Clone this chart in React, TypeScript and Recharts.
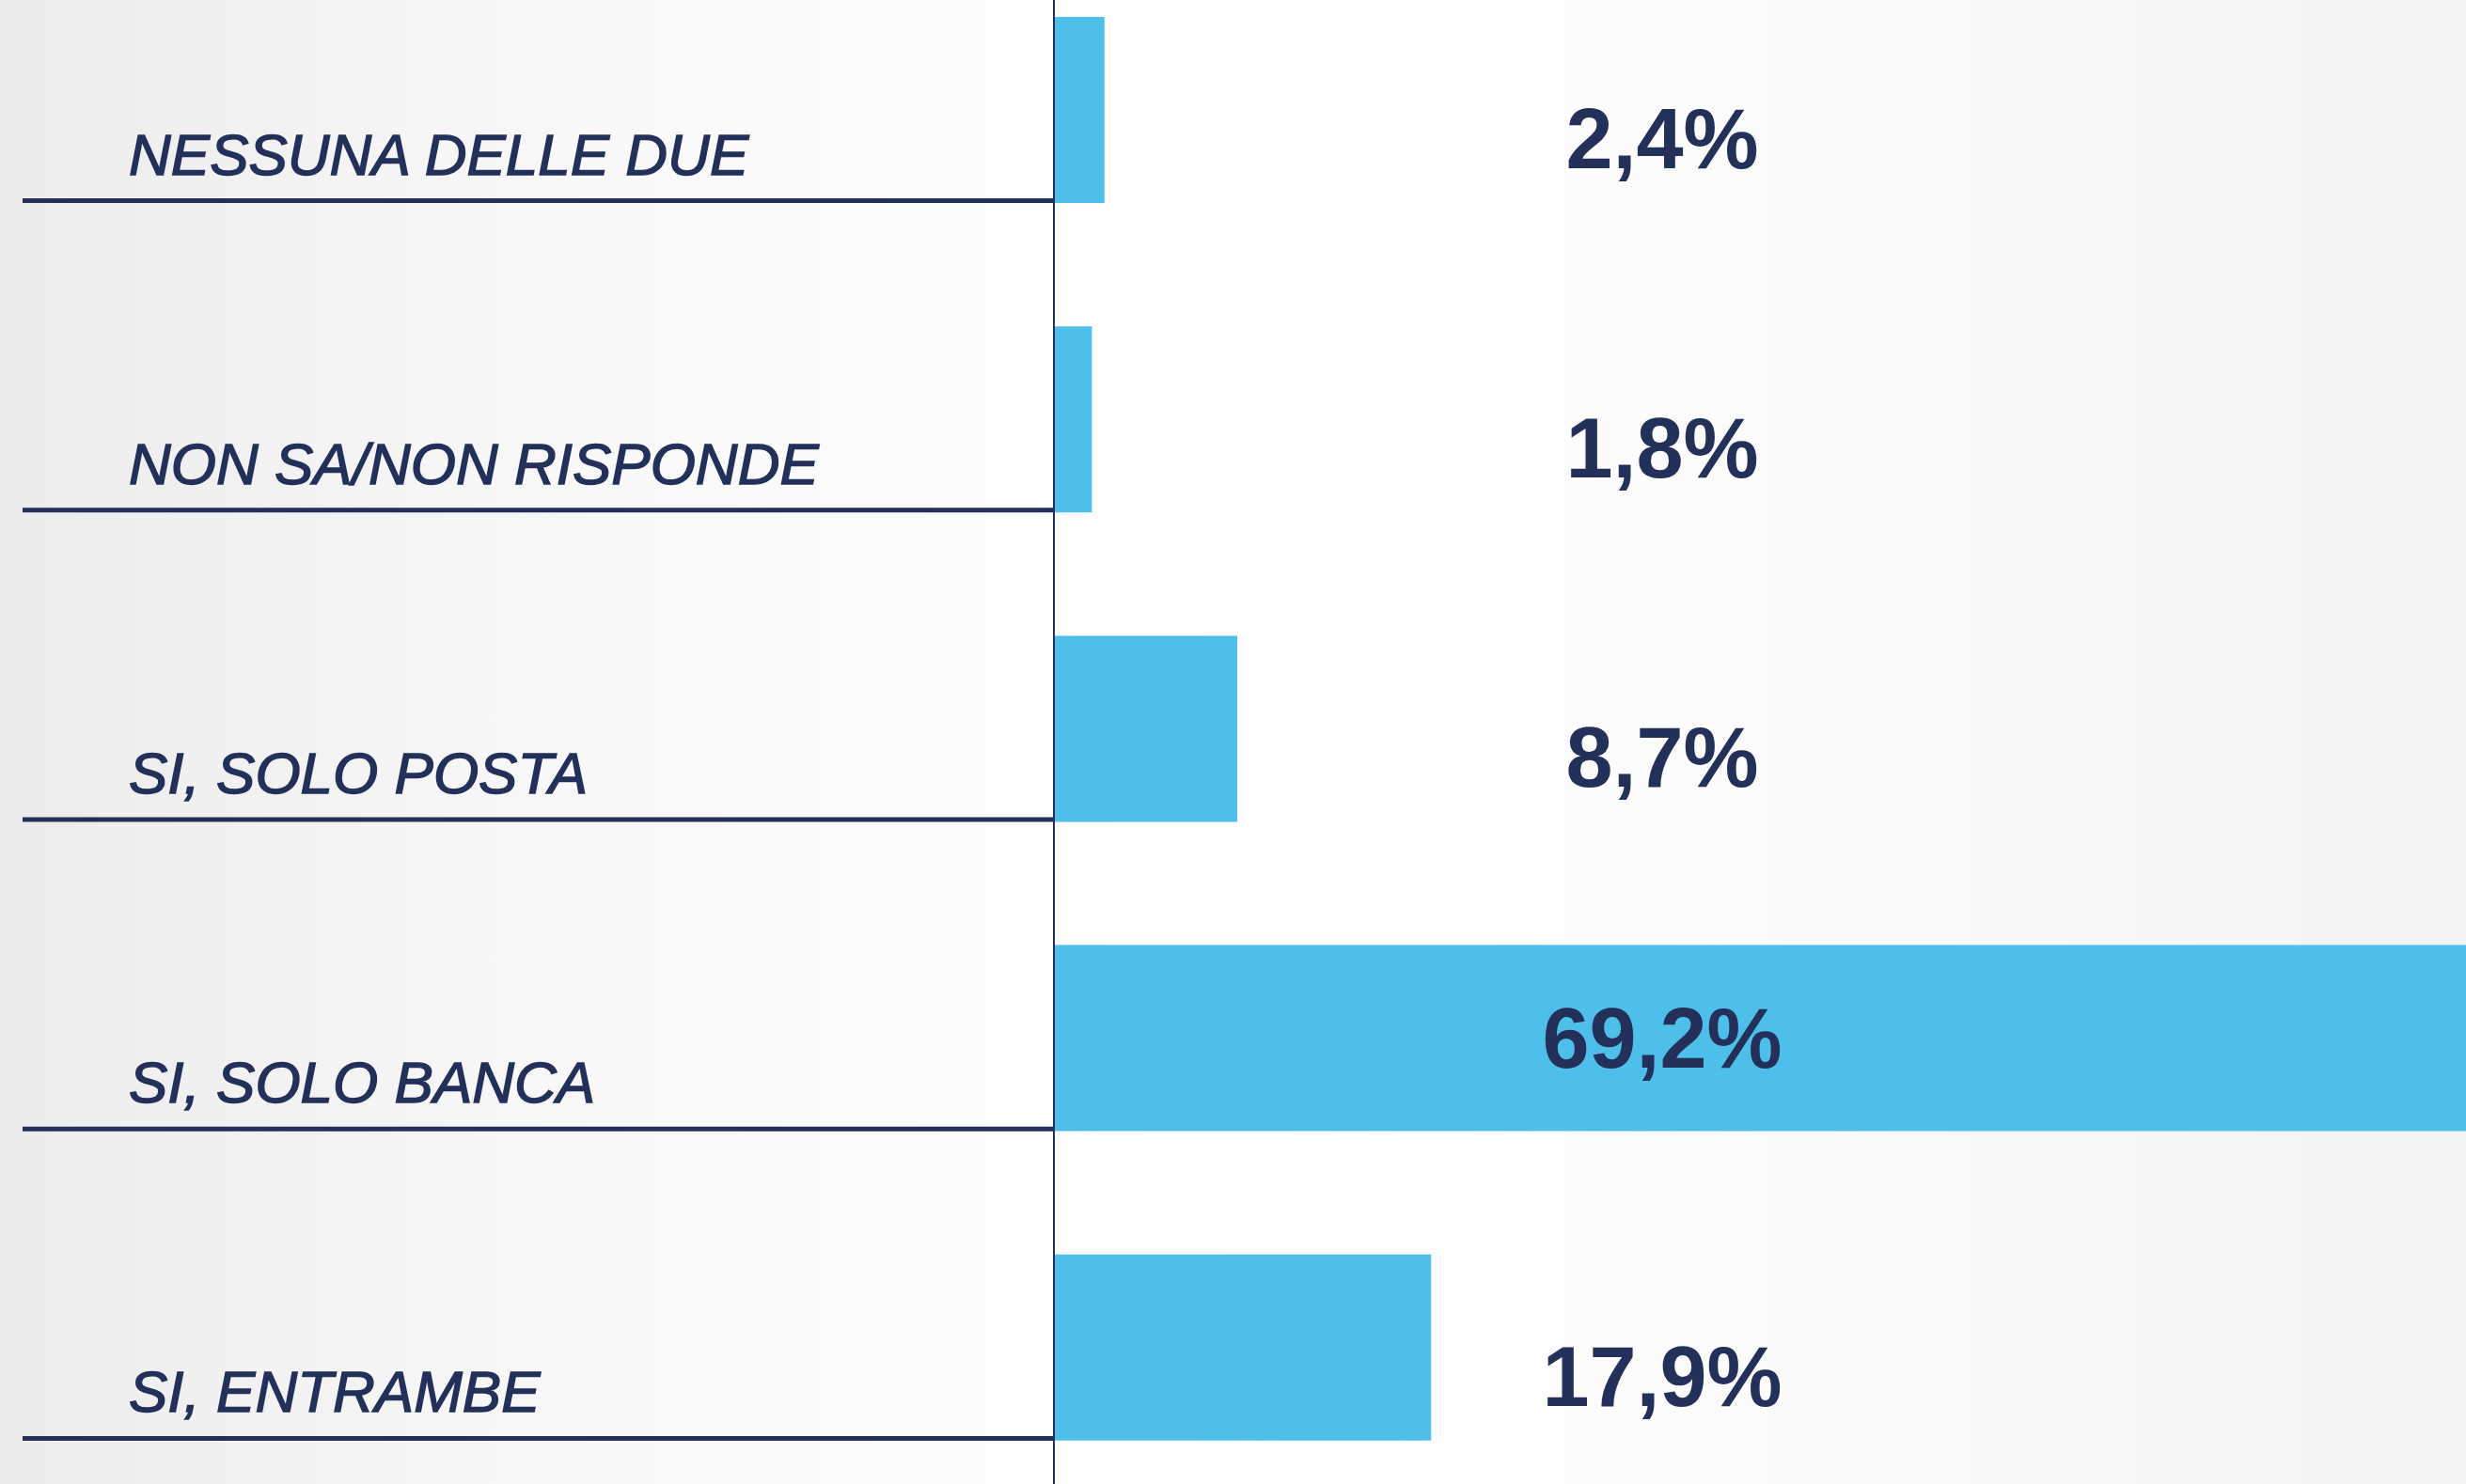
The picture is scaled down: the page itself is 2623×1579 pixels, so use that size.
import React from 'react';
import { BarChart, Bar, XAxis, YAxis, LabelList } from 'recharts';

const categories = ['NESSUNA DELLE DUE', 'NON SA/NON RISPONDE', 'SI, SOLO POSTA', 'SI, SOLO BANCA', 'SI, ENTRAMBE'];
const values = [2.4, 1.8, 8.7, 69.2, 17.9];

const NAVY = '#22305a';
const BLUE = '#4dbfea';
const X_MAX = 67;

const chartData = categories.map((label, i) => ({ label, value: values[i] }));

const fmt = (v: number) => `${v.toFixed(1).replace('.', ',')}%`;

const CategoryTick = (props: any) => {
  const { y, payload } = props;
  return (
    <g>
      <text
        x={137}
        y={y + 69}
        fill={NAVY}
        stroke={NAVY}
        strokeWidth={1.4}
        fontSize={62}
        fontStyle="italic"
        fontFamily="'Liberation Sans', Arial, sans-serif"
      >
        {payload.value}
      </text>
      <line x1={24} x2={1121} y1={y + 97} y2={y + 97} stroke={NAVY} strokeWidth={5} />
    </g>
  );
};

const ValueLabel = (props: any) => {
  const { y, height, value } = props;
  const mid = Number(y) + Number(height) / 2;
  // the label sits inside the bar when it fills the row
  const base = value > X_MAX ? mid + 31 : mid + 62;
  return (
    <text
      x={1768}
      y={base}
      textAnchor="middle"
      fill={NAVY}
      fontSize={90}
      fontWeight={700}
      fontFamily="'Liberation Sans', Arial, sans-serif"
    >
      {fmt(value)}
    </text>
  );
};

const App: React.FC = () => {
  return (
    <div
      style={{
        width: 2623,
        height: 1579,
        position: 'relative',
        overflow: 'hidden',
        background:
          'linear-gradient(90deg, #ececec 0%, #f7f7f7 20%, #fdfdfd 40%, #ffffff 55%, #f9f9f9 80%, #f3f3f3 100%)',
      }}
    >
      <style>{'body{margin:0}'}</style>
      <div style={{ position: 'absolute', left: 0, top: -48 }}>
        <BarChart
          width={2623}
          height={1646}
          data={chartData}
          layout="vertical"
          margin={{ top: 0, right: 0, bottom: 0, left: 0 }}
        >
          <XAxis type="number" domain={[0, X_MAX]} allowDataOverflow hide />
          <YAxis
            type="category"
            dataKey="label"
            width={1121}
            interval={0}
            axisLine={{ stroke: NAVY, strokeWidth: 2 }}
            tickLine={false}
            tick={<CategoryTick />}
          />
          <Bar dataKey="value" fill={BLUE} barSize={198} isAnimationActive={false}>
            <LabelList dataKey="value" content={<ValueLabel />} />
          </Bar>
        </BarChart>
      </div>
    </div>
  );
};

export default App;
